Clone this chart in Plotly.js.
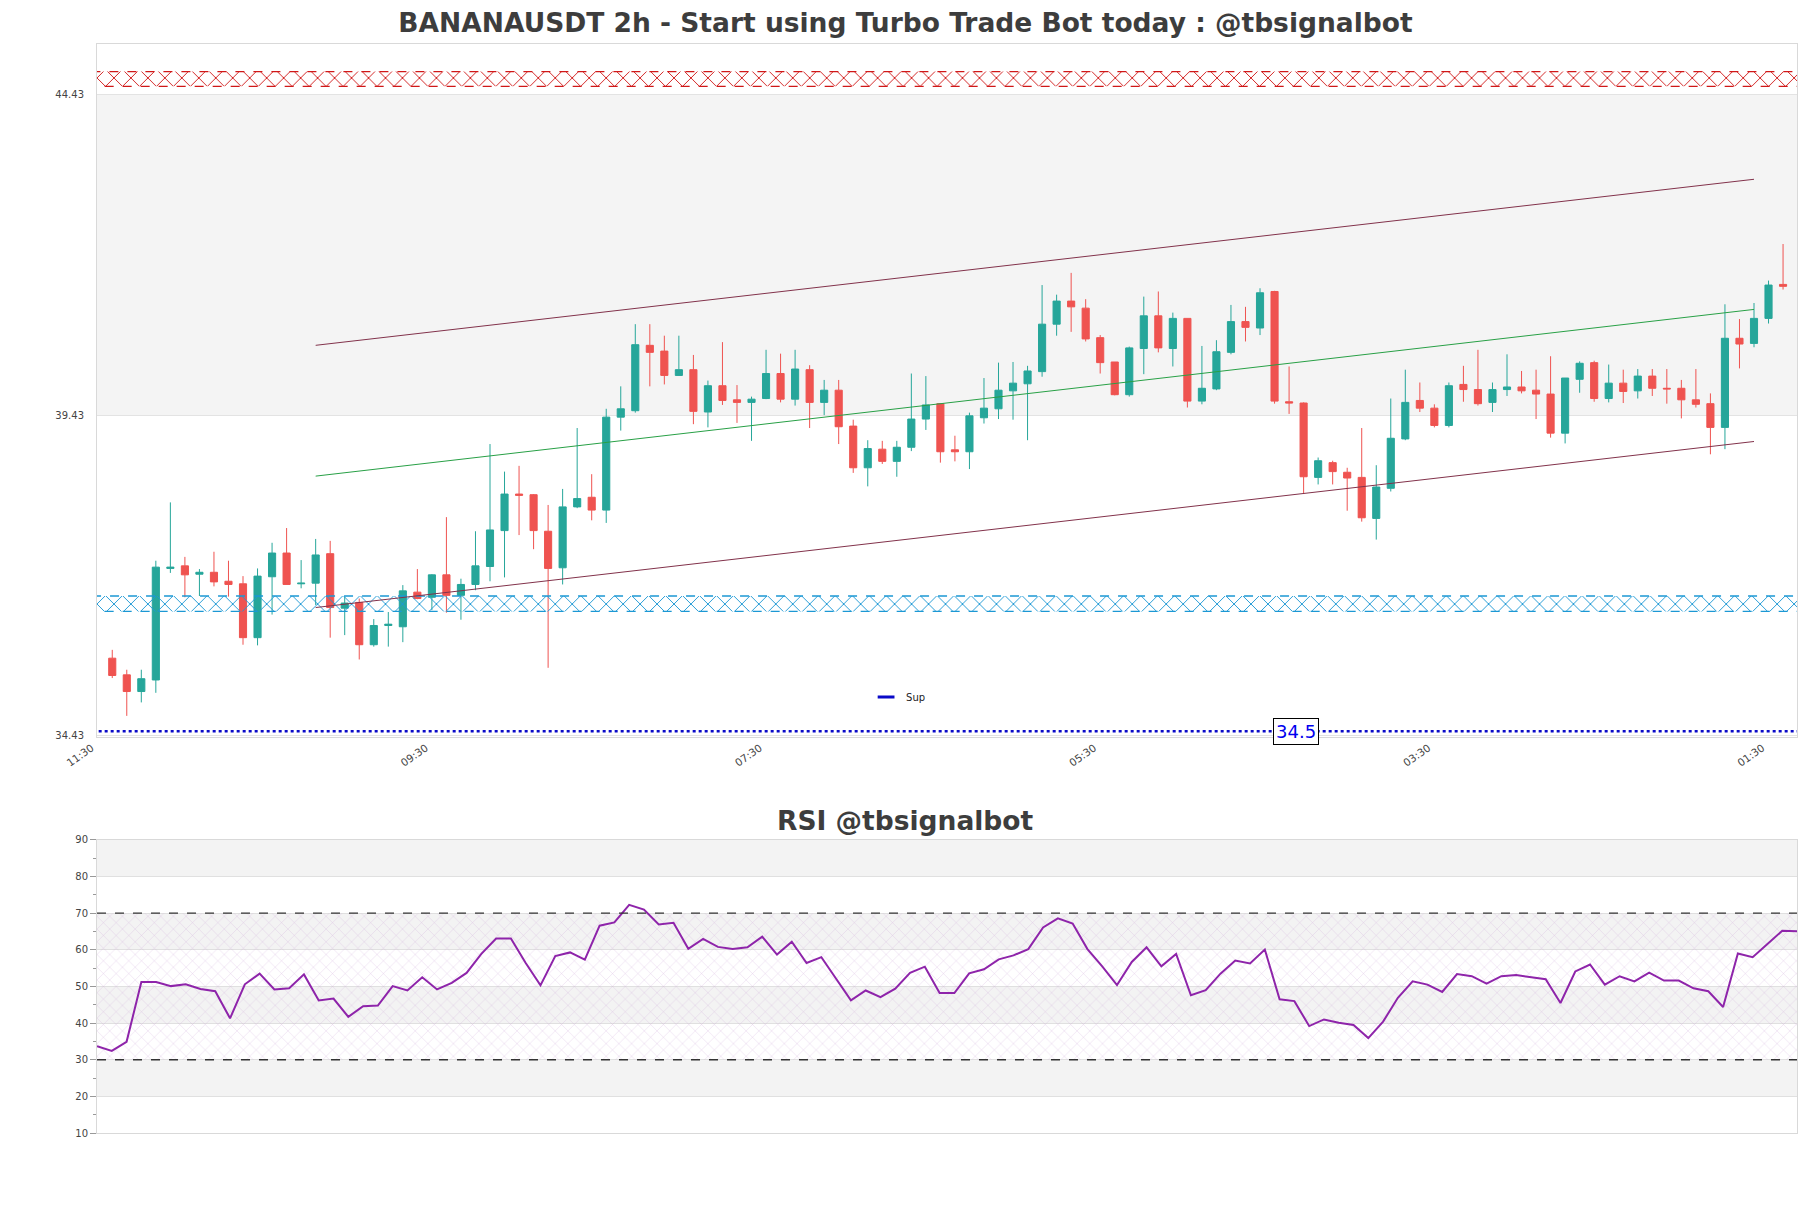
<!DOCTYPE html>
<html><head><meta charset="utf-8">
<script src="https://cdn.plot.ly/plotly-3.0.1.min.js"></script>
<style>html,body{margin:0;padding:0;background:#fff}#chart{width:1811px;height:1208px}</style>
</head><body><div id="chart"></div>
<script>
// ---- Data ----
const openP = [35.64,35.38,35.12,35.30,37.04,37.08,36.95,36.98,36.84,36.80,
35.96,36.91,37.28,36.80,36.81,37.27,36.42,36.51,35.85,36.15,
36.13,36.67,36.59,36.94,36.62,36.79,37.07,37.63,38.20,38.19,
37.62,37.05,38.00,38.15,37.95,39.40,39.50,40.52,40.43,40.05,
40.14,39.48,39.89,39.67,39.63,39.69,40.08,39.68,40.14,39.63,
39.82,39.26,38.61,38.90,38.71,38.93,39.37,39.61,38.89,38.86,
39.39,39.53,39.81,39.92,40.11,40.85,41.21,41.10,40.64,40.26,
39.75,40.47,40.98,40.47,40.94,39.65,39.84,40.41,40.89,40.79,
41.36,39.64,39.62,38.46,38.69,38.54,38.46,37.82,38.29,39.06,
39.66,39.54,39.27,39.91,39.83,39.63,39.83,39.87,39.82,39.76,
39.15,39.99,40.25,39.69,39.93,39.81,40.04,39.85,39.85,39.67,
39.61,39.24,40.63,40.55,40.94,41.47];
const highP = [35.77,35.46,35.46,37.16,38.07,37.22,37.03,37.30,37.16,36.92,
37.04,37.44,37.67,37.17,37.50,37.47,36.60,36.57,36.25,36.36,
36.78,37.03,36.95,37.84,36.88,37.62,38.98,38.55,38.64,38.20,
38.03,38.28,39.23,38.51,39.53,39.88,40.85,40.85,40.67,40.67,
40.37,39.97,40.57,39.90,39.72,40.45,40.39,40.45,40.21,39.98,
39.98,39.36,39.04,39.03,39.03,40.08,40.04,39.61,39.11,39.47,
40.01,40.25,40.26,40.20,41.46,41.31,41.65,41.24,40.68,40.26,
40.50,41.28,41.36,41.03,40.94,40.51,40.60,41.15,41.12,41.41,
41.37,40.19,39.63,38.77,38.72,38.61,39.23,38.65,39.69,40.14,
39.94,39.60,39.94,40.20,40.45,39.94,40.38,40.12,40.14,40.35,
40.01,40.27,40.28,40.22,40.14,40.15,40.15,40.15,39.98,40.15,
39.77,41.16,40.93,41.18,41.53,42.10];
const lowP = [35.33,34.74,34.95,35.10,36.97,36.59,36.61,36.76,36.60,35.85,
35.84,36.32,36.79,36.73,36.47,35.96,36.00,35.62,35.82,35.82,
35.89,36.56,36.39,36.35,36.24,36.70,36.84,36.90,37.56,37.34,
35.49,36.79,37.98,37.79,37.75,39.19,39.47,39.88,39.91,40.05,
39.29,39.24,39.59,39.31,39.03,39.68,39.63,39.58,39.23,39.43,
38.98,38.53,38.32,38.67,38.47,38.87,39.20,38.69,38.71,38.59,
39.30,39.37,39.36,39.04,40.03,40.67,40.73,40.58,40.08,39.74,
39.72,40.07,40.41,40.19,39.55,39.60,39.82,40.38,40.58,40.68,
39.61,39.45,38.20,38.35,38.35,37.94,37.77,37.49,38.24,39.04,
39.48,39.24,39.24,39.64,39.58,39.48,39.73,39.77,39.37,39.08,
38.99,39.78,39.64,39.63,39.62,39.69,39.73,39.61,39.38,39.55,
38.82,38.90,40.16,40.49,40.86,41.39];
const closeP = [35.37,35.12,35.32,37.06,37.06,36.94,36.98,36.83,36.79,35.96,
36.92,37.28,36.79,36.81,37.25,36.43,36.50,35.85,36.15,36.17,
36.69,36.57,36.94,36.62,36.79,37.08,37.64,38.20,38.18,37.63,
37.04,38.00,38.13,37.95,39.40,39.53,40.53,40.41,40.05,40.14,
39.49,39.89,39.66,39.63,39.68,40.08,39.68,40.15,39.63,39.82,
39.25,38.61,38.91,38.71,38.93,39.37,39.59,38.86,38.86,39.42,
39.54,39.82,39.93,40.12,40.85,41.21,41.12,40.62,40.25,39.75,
40.48,40.98,40.48,40.94,39.65,39.85,40.42,40.89,40.80,41.34,
39.65,39.62,38.47,38.72,38.55,38.45,37.83,38.31,39.07,39.63,
39.54,39.27,39.89,39.83,39.61,39.83,39.87,39.81,39.76,39.15,
40.01,40.24,39.69,39.93,39.80,40.04,39.85,39.84,39.67,39.60,
39.24,40.63,40.54,40.94,41.46,41.44];
const rsiValues = [33.7,32.4,34.9,51.2,51.2,50.1,50.6,49.3,48.7,41.3,
50.6,53.5,49.2,49.5,53.3,46.2,46.7,41.7,44.6,44.8,
50.1,48.9,52.5,49.2,51.0,53.7,58.9,63.1,63.1,56.4,
50.3,58.3,59.3,57.3,66.6,67.5,72.3,71.0,66.9,67.4,
60.3,63.0,60.8,60.2,60.7,63.6,58.7,62.2,56.4,58.0,
52.1,46.2,48.9,47.1,49.4,53.7,55.4,48.2,48.2,53.6,
54.7,57.4,58.5,60.2,66.1,68.6,67.2,60.2,55.5,50.4,
56.7,60.7,55.5,58.9,47.6,49.0,53.5,57.1,56.3,60.1,
46.5,46.0,39.2,41.0,40.1,39.5,35.9,40.4,46.9,51.4,
50.5,48.5,53.4,52.8,50.8,52.8,53.1,52.5,52.0,45.5,
54.1,56.0,50.5,52.8,51.4,53.8,51.6,51.6,49.5,48.7,
44.4,59.0,58.0,61.6,65.2,65.1];
// channel lines: [start index, end index] and values
const channelX = [14, 113];
const upperLine = [40.52, 43.11];
const midLine = [38.48, 41.08];
const lowerLine = [36.43, 39.02];
const supLevel = 34.5;
const resistanceZone = [44.56, 44.79];
const supportZone = [36.37, 36.61];
const tickLabels = ["11:30","09:30","07:30","05:30","03:30","01:30"];
const tickPos = [-1, 22, 45, 68, 91, 114];
const priceTicks = [34.43, 39.43, 44.43];

const idx = openP.map((_, i) => i);
const xr = [-1.05, 115.96];

function band(y0, y1, color) {
  return {
    type: 'scatter', mode: 'lines', xaxis: 'x', yaxis: 'y',
    x: [-3, 119, 119, -3, -3], y: [y0, y0, y1, y1, y0],
    fill: 'toself', fillcolor: 'rgba(0,0,0,0)',
    fillpattern: {shape: 'x', fgcolor: color, bgcolor: 'rgba(255,255,255,0)', size: 12, solidity: 0.15},
    line: {color: color, width: 1.3, dash: 'dash'},
    hoverinfo: 'skip', showlegend: false
  };
}

const supColor = '#0a0ac8';
const traces = [
  band(resistanceZone[0], resistanceZone[1], '#d01818'),
  band(supportZone[0], supportZone[1], '#1c98d4'),
  {type: 'scatter', mode: 'lines', x: channelX, y: upperLine, line: {color: 'rgb(130,50,75)', width: 1}, showlegend: false, hoverinfo: 'skip'},
  {type: 'scatter', mode: 'lines', x: channelX, y: midLine, line: {color: 'rgb(40,160,70)', width: 1}, showlegend: false, hoverinfo: 'skip'},
  {type: 'scatter', mode: 'lines', x: channelX, y: lowerLine, line: {color: 'rgb(130,50,75)', width: 1}, showlegend: false, hoverinfo: 'skip'},
  {type: 'candlestick', x: idx, open: openP, high: highP, low: lowP, close: closeP,
   increasing: {line: {color: '#26a69a', width: 1}, fillcolor: '#26a69a'},
   decreasing: {line: {color: '#ef5350', width: 1}, fillcolor: '#ef5350'},
   whiskerwidth: 0, showlegend: false, xaxis: 'x', yaxis: 'y'},
  {type: 'scatter', mode: 'lines', name: 'Sup', x: [-3, 119], y: [supLevel, supLevel],
   line: {color: supColor, width: 2.4, dash: 'dot'}, showlegend: false},
  // legend entry for the Sup line (short solid dash like the reference)
  {type: 'scatter', mode: 'markers', name: 'Sup', x: [null], y: [null],
   marker: {symbol: 'line-ew-open', size: 12, color: supColor, line: {width: 3, color: supColor}}, showlegend: true},
  // RSI hatched zone
  {type: 'scatter', mode: 'lines', xaxis: 'x2', yaxis: 'y2',
   x: [0, 115, 115, 0, 0], y: [30, 30, 70, 70, 30], fill: 'toself', fillcolor: 'rgba(0,0,0,0)',
   fillpattern: {shape: 'x', fgcolor: 'rgba(195,150,210,0.6)', bgcolor: 'rgba(255,255,255,0)', size: 9, solidity: 0.08},
   line: {width: 0}, hoverinfo: 'skip', showlegend: false},
  {type: 'scatter', mode: 'lines', xaxis: 'x2', yaxis: 'y2', x: idx, y: rsiValues,
   line: {color: '#8e24aa', width: 2}, showlegend: false}
];

const gray = '#f3f3f3';
const shapes = [
  {type: 'rect', xref: 'x domain', yref: 'y', x0: 0, x1: 1, y0: priceTicks[1], y1: priceTicks[2], fillcolor: '#f4f4f4', line: {width: 0}, layer: 'below'},
  {type: 'rect', xref: 'x2 domain', yref: 'y2', x0: 0, x1: 1, y0: 80, y1: 90, fillcolor: gray, line: {width: 0}, layer: 'below'},
  {type: 'rect', xref: 'x2 domain', yref: 'y2', x0: 0, x1: 1, y0: 60, y1: 70, fillcolor: gray, line: {width: 0}, layer: 'below'},
  {type: 'rect', xref: 'x2 domain', yref: 'y2', x0: 0, x1: 1, y0: 40, y1: 50, fillcolor: gray, line: {width: 0}, layer: 'below'},
  {type: 'rect', xref: 'x2 domain', yref: 'y2', x0: 0, x1: 1, y0: 20, y1: 30, fillcolor: gray, line: {width: 0}, layer: 'below'},
  {type: 'line', xref: 'x2 domain', yref: 'y2', x0: 0, x1: 1, y0: 70, y1: 70, line: {color: '#333', width: 1.3, dash: 'dash'}},
  {type: 'line', xref: 'x2 domain', yref: 'y2', x0: 0, x1: 1, y0: 30, y1: 30, line: {color: '#333', width: 1.3, dash: 'dash'}}
];

const tickFont = {family: 'DejaVu Sans', size: 10, color: '#444'};
const layout = {
  width: 1811, height: 1208,
  margin: {l: 97, r: 14, t: 44, b: 75},
  paper_bgcolor: '#fff', plot_bgcolor: '#fff',
  font: {family: 'DejaVu Sans', color: '#444'},
  title: {text: '<b>BANANAUSDT 2h - Start using Turbo Trade Bot today : @tbsignalbot</b>',
          font: {family: 'DejaVu Sans', size: 26.5, color: '#3d3d3d'},
          x: 0.5, xref: 'container', xanchor: 'center', y: 0.981, yref: 'container', yanchor: 'middle'},
  showlegend: true,
  legend: {x: 0.4524, y: 0.4004, xanchor: 'left', yanchor: 'middle', bgcolor: 'rgba(0,0,0,0)',
           font: {family: 'DejaVu Sans', size: 10, color: '#222'}, itemwidth: 30},
  xaxis: {domain: [0, 1], anchor: 'y', range: xr, tickmode: 'array', tickvals: tickPos, ticktext: tickLabels,
          tickangle: -35, ticklabelshift: -6, tickfont: {family: 'DejaVu Sans', size: 10.5, color: '#444'}, showgrid: false, zeroline: false,
          showline: true, linecolor: '#d9d9d9', mirror: true, ticks: '', rangeslider: {visible: false}},
  yaxis: {domain: [0.3636, 1], anchor: 'x', range: [34.41, 45.22], tickmode: 'array', tickvals: priceTicks,
          ticktext: priceTicks.map(v => v.toFixed(2)), tickfont: tickFont, ticklabelstandoff: 10,
          showgrid: true, gridcolor: '#e3e3e3', zeroline: false, showline: true, linecolor: '#d9d9d9', mirror: true,
          ticks: ''},
  xaxis2: {domain: [0, 1], anchor: 'y2', range: [0, 115], showticklabels: false, showgrid: false, zeroline: false,
           showline: true, linecolor: '#d9d9d9', mirror: true, ticks: ''},
  yaxis2: {domain: [0, 0.2691], anchor: 'x2', range: [10, 90], tick0: 10, dtick: 10, tickfont: tickFont,
           showgrid: true, gridcolor: '#e0e0e0', zeroline: false, showline: true, linecolor: '#d9d9d9', mirror: true,
           ticks: 'outside', ticklen: 6, tickcolor: '#999',
           minor: {dtick: 5, ticks: 'outside', ticklen: 3, tickcolor: '#999', showgrid: false}},
  shapes: shapes,
  annotations: [
    {text: '<b>RSI @tbsignalbot</b>', xref: 'paper', yref: 'paper', x: 0.4756, y: 0.2874, xanchor: 'center', yanchor: 'middle',
     showarrow: false, font: {family: 'DejaVu Sans', size: 26.5, color: '#3d3d3d'}},
    {text: String(supLevel), xref: 'x', yref: 'y', x: 81.5, y: supLevel, showarrow: false,
     font: {family: 'DejaVu Sans', size: 18, color: '#0000ee'}, bgcolor: '#fff', bordercolor: '#000', borderwidth: 1, borderpad: 2}
  ]
};

Plotly.newPlot('chart', traces, layout, {staticPlot: true, displayModeBar: false});
</script>
</body></html>
